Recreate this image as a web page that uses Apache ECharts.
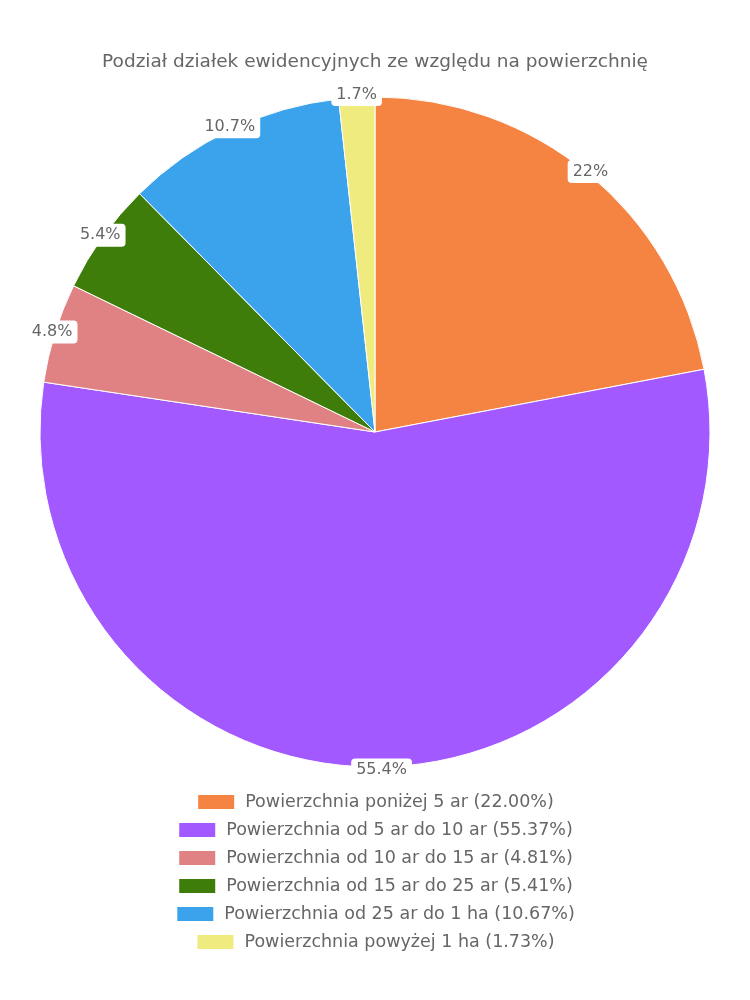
<!DOCTYPE html>
<html><head><meta charset="utf-8">
<script src="https://cdn.jsdelivr.net/npm/echarts@6/dist/echarts.min.js"></script>
<style>html,body{margin:0;padding:0;background:#fff}#c{width:750px;height:1000px}</style>
</head><body><div id="c"></div>
<script>
const titleText = 'Podział działek ewidencyjnych ze względu na powierzchnię';
const categories = [
  'Powierzchnia poniżej 5 ar',
  'Powierzchnia od 5 ar do 10 ar',
  'Powierzchnia od 10 ar do 15 ar',
  'Powierzchnia od 15 ar do 25 ar',
  'Powierzchnia od 25 ar do 1 ha',
  'Powierzchnia powyżej 1 ha'
];
const values = [22.00, 55.37, 4.81, 5.41, 10.67, 1.73];
const colors = ['#F58442', '#A259FF', '#E08283', '#3F7D0A', '#3AA3EC', '#F0EB7E'];

const FONT = '"DejaVu Sans", sans-serif';
const data = categories.map((n, i) => ({ name: n, value: values[i], itemStyle: { color: colors[i] } }));
const total = values.reduce((a, b) => a + b, 0);

const legends = categories.map((n, i) => ({
  data: [n],
  top: 788 + i * 28,
  left: 'center',
  icon: 'rect',
  itemWidth: 38,
  itemHeight: 16,
  selectedMode: false,
  textStyle: { color: '#666', fontSize: 17.5, fontFamily: FONT, padding: [0, 0, 0, 5] },
  formatter: name => name + ' (' + values[categories.indexOf(name)].toFixed(2) + '%)'
}));

const chart = echarts.init(document.getElementById('c'), null, { renderer: 'canvas' });
chart.setOption({
  animation: false,
  color: colors,
  title: {
    text: titleText, left: 'center', top: 48,
    textStyle: { color: '#666', fontSize: 18.5, fontWeight: 'normal', fontFamily: FONT }
  },
  legend: legends,
  series: [
    {
      type: 'pie', center: [375, 432], radius: [0, 335], startAngle: 90, clockwise: true,
      data: data, silent: true,
      itemStyle: { borderColor: '#fff', borderWidth: 1 },
      label: { show: false }, labelLine: { show: false },
      emphasis: { disabled: true }
    },
    {
      type: 'pie', center: [375, 432], radius: [334, 336], startAngle: 90, clockwise: true,
      data: categories.map((n, i) => ({ name: n, value: values[i] })),
      silent: true,
      itemStyle: { color: 'rgba(0,0,0,0)', borderWidth: 0 },
      label: {
        show: true, position: 'inside', rotate: 0,
        formatter: p => parseFloat((p.value / total * 100).toFixed(1)) + '%',
        color: '#666', fontSize: 16, fontFamily: FONT,
        backgroundColor: '#fff', borderRadius: 4, padding: [4, 5, 3, 5]
      },
      labelLine: { show: false },
      emphasis: { disabled: true }
    }
  ]
});
</script></body></html>
